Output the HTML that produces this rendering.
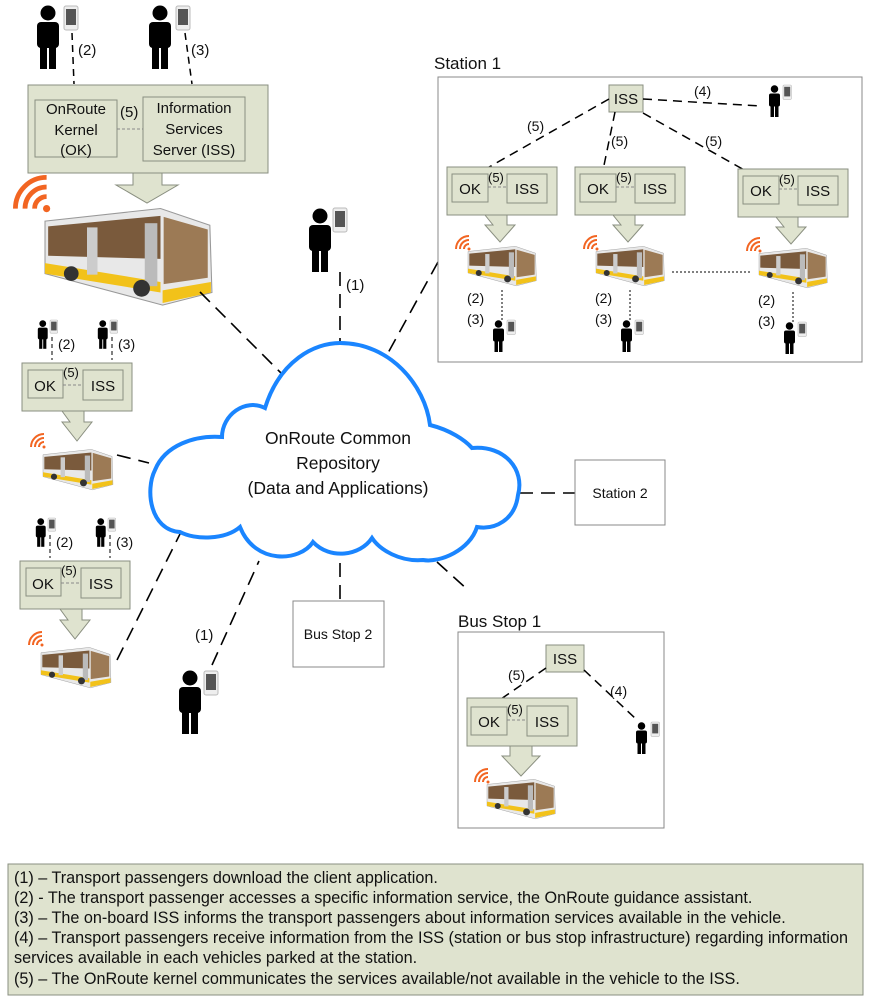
<!DOCTYPE html>
<html><head><meta charset="utf-8"><style>
html,body{margin:0;padding:0;background:#fff;}
svg{display:block;font-family:"Liberation Sans",sans-serif;}
text{fill:#111;}
</style></head><body>
<svg width="871" height="1000" viewBox="0 0 871 1000" xmlns="http://www.w3.org/2000/svg">
<defs>
<g id="bus">
 <polygon points="0,22 110,10 157,26 159,90 112,102 0,72" fill="#e8e8e8" stroke="#999" stroke-width="1"/>
 <polygon points="3,27 110,17 110,58 3,55" fill="#7a5a3c"/>
 <polygon points="113,18 155,30 155,76 113,82" fill="#9c7a55"/>
 <polygon points="0,62 110,80 110,90 0,72" fill="#f2c21a"/>
 <polygon points="112,88 158,80 158,90 112,100" fill="#f2c21a"/>
 <rect x="40" y="28" width="10" height="45" fill="#ccc"/>
 <rect x="95" y="24" width="12" height="60" fill="#bbb"/>
 <circle cx="25" cy="72" r="7" fill="#333"/>
 <circle cx="92" cy="86" r="8" fill="#333"/>
</g>
<g id="wifi" fill="none" stroke="#f26522" stroke-width="4">
 <circle cx="28" cy="28" r="3" fill="#f26522" stroke="none"/>
 <path d="M18,28 A10,10 0 0 1 28,18"/>
 <path d="M10,28 A18,18 0 0 1 28,10"/>
 <path d="M2,28 A26,26 0 0 1 28,2"/>
</g>
<g id="person" fill="#000">
 <circle cx="15" cy="8" r="7.5"/>
 <rect x="4" y="17" width="22" height="26" rx="4"/>
 <rect x="7" y="38" width="7" height="26"/>
 <rect x="16" y="38" width="7" height="26"/>
</g>
<g id="phone">
 <rect x="0" y="0" width="14" height="24" rx="2" fill="#eee" stroke="#bbb"/>
 <rect x="2" y="3" width="10" height="16" fill="#555"/>
</g>
</defs>

<!-- top-left group -->
<use href="#person" x="33" y="5"/><use href="#phone" x="64" y="6"/>
<use href="#person" x="145" y="5"/><use href="#phone" x="176" y="6"/>
<line x1="72" y1="33" x2="74" y2="84" stroke="#000" stroke-width="1.5" stroke-dasharray="7,5"/>
<line x1="185" y1="33" x2="192" y2="84" stroke="#000" stroke-width="1.5" stroke-dasharray="7,5"/>
<text x="78" y="55" font-size="15">(2)</text><text x="191" y="55" font-size="15">(3)</text>
<rect x="28" y="85" width="240" height="88" fill="#dfe3cf" stroke="#8a8f80"/>
<rect x="35" y="100" width="82" height="57" fill="#dfe3cf" stroke="#8a8f80"/>
<rect x="143" y="97" width="102" height="64" fill="#dfe3cf" stroke="#8a8f80"/>
<line x1="117" y1="129" x2="143" y2="129" stroke="#888" stroke-dasharray="3,2"/>
<text x="120" y="117" font-size="15">(5)</text>
<text font-size="15" text-anchor="middle"><tspan x="76" y="114">OnRoute</tspan><tspan x="76" y="135">Kernel</tspan><tspan x="76" y="155">(OK)</tspan></text>
<text font-size="15" text-anchor="middle"><tspan x="194" y="113">Information</tspan><tspan x="194" y="134">Services</tspan><tspan x="194" y="155">Server (ISS)</tspan></text>
<polygon points="133,173 162,173 162,185 178,185 147,203 116,185 133,185" fill="#dfe3cf" stroke="#8a8f80"/>
<use href="#wifi" transform="translate(13,175) scale(1.2)"/>
<use href="#bus" transform="translate(45,198) scale(1.05)"/>

<!-- connectors to cloud -->
<g stroke="#000" stroke-width="1.6" stroke-dasharray="14,8" fill="none">
<line x1="200" y1="292" x2="281" y2="373"/>
<line x1="340" y1="272" x2="340" y2="343"/>
<line x1="438" y1="262" x2="388" y2="353"/>
<line x1="117" y1="455" x2="149" y2="463"/>
<line x1="117" y1="660" x2="181" y2="532"/>
<line x1="212" y1="665" x2="259" y2="561"/>
<line x1="340" y1="563" x2="340" y2="600"/>
<line x1="519" y1="493" x2="575" y2="493"/>
<line x1="437" y1="562" x2="468" y2="590"/>
</g>
<use href="#person" x="305" y="208"/><use href="#phone" x="333" y="208"/>
<text x="346" y="290" font-size="15">(1)</text>
<use href="#person" x="175" y="670"/><use href="#phone" x="204" y="671"/>
<text x="195" y="640" font-size="15">(1)</text>

<!-- cloud -->
<path d="M180,532 C150,530 145,490 155,470 C165,445 195,435 222,437 C222,415 245,398 265,408 C280,360 315,343 340,343 C390,343 425,385 430,425 C450,430 465,440 472,448 C505,445 525,470 518,495 C515,520 495,530 477,527 C470,550 440,563 423,560 C400,562 380,550 372,538 C360,556 330,560 313,542 C300,562 255,565 240,527 C225,540 195,540 180,532 Z" fill="#fff" stroke="#1a85ff" stroke-width="4"/>
<text font-size="17.5" text-anchor="middle"><tspan x="338" y="444">OnRoute Common</tspan><tspan x="338" y="469">Repository</tspan><tspan x="338" y="494">(Data and Applications)</tspan></text>

<!-- left mid groups -->
<g id="lg1">
<use href="#person" transform="translate(36,320) scale(0.45)"/><use href="#phone" transform="translate(50,320) scale(0.55)"/>
<use href="#person" transform="translate(96,320) scale(0.45)"/><use href="#phone" transform="translate(110,320) scale(0.55)"/>
<line x1="52" y1="337" x2="52" y2="360" stroke="#000" stroke-dasharray="4,3"/>
<line x1="112" y1="337" x2="112" y2="360" stroke="#000" stroke-dasharray="4,3"/>
<text x="58" y="349" font-size="14">(2)</text><text x="118" y="349" font-size="14">(3)</text>
<rect x="22" y="363" width="110" height="48" fill="#dfe3cf" stroke="#8a8f80"/>
<rect x="28" y="370" width="35" height="28" fill="#dfe3cf" stroke="#8a8f80"/>
<rect x="83" y="370" width="40" height="30" fill="#dfe3cf" stroke="#8a8f80"/>
<line x1="63" y1="385" x2="83" y2="385" stroke="#888" stroke-dasharray="3,2"/>
<text x="63" y="377" font-size="13">(5)</text>
<text x="45" y="391" font-size="15" text-anchor="middle">OK</text>
<text x="103" y="391" font-size="15" text-anchor="middle">ISS</text>
<polygon points="62,411 84,411 84,422 92,422 77,441 62,422 70,422" fill="#dfe3cf" stroke="#8a8f80"/>
<use href="#wifi" transform="translate(30,433) scale(0.5)"/>
<use href="#bus" transform="translate(43,445) scale(0.44)"/>
</g>
<use href="#lg1" transform="translate(-2,198)"/>

<!-- Station 1 -->
<text x="434" y="69" font-size="17">Station 1</text>
<rect x="438" y="77" width="424" height="285" fill="#fff" stroke="#888"/>
<rect x="609" y="85" width="34" height="27" fill="#dfe3cf" stroke="#8a8f80"/>
<text x="626" y="104" font-size="15" text-anchor="middle">ISS</text>
<g stroke="#000" stroke-width="1.5" stroke-dasharray="9,6" fill="none">
<line x1="643" y1="99" x2="760" y2="106"/>
<line x1="609" y1="99" x2="475" y2="175"/>
<line x1="615" y1="112" x2="602" y2="175"/>
<line x1="643" y1="113" x2="762" y2="180"/>
</g>
<text x="694" y="96" font-size="14">(4)</text>
<text x="527" y="131" font-size="14">(5)</text>
<text x="611" y="146" font-size="14">(5)</text>
<text x="705" y="146" font-size="14">(5)</text>
<use href="#person" transform="translate(767,85) scale(0.5)"/><use href="#phone" transform="translate(783,85) scale(0.6)"/>
<g id="sg">
<rect x="447" y="167" width="110" height="48" fill="#dfe3cf" stroke="#8a8f80"/>
<rect x="452" y="174" width="36" height="28" fill="#dfe3cf" stroke="#8a8f80"/>
<rect x="507" y="174" width="40" height="29" fill="#dfe3cf" stroke="#8a8f80"/>
<line x1="488" y1="187" x2="507" y2="187" stroke="#888" stroke-dasharray="3,2"/>
<text x="488" y="182" font-size="13">(5)</text>
<text x="470" y="194" font-size="15" text-anchor="middle">OK</text>
<text x="527" y="194" font-size="15" text-anchor="middle">ISS</text>
<polygon points="487,215 509,215 509,225 517,225 502,242 487,225 495,225" fill="#dfe3cf" stroke="#8a8f80" transform="translate(-2,0)"/>
<use href="#wifi" transform="translate(455,235) scale(0.5)"/>
<use href="#bus" transform="translate(468,242) scale(0.43)"/>
<line x1="502" y1="290" x2="502" y2="322" stroke="#000" stroke-dasharray="2,2"/>
<text x="467" y="303" font-size="14">(2)</text><text x="467" y="324" font-size="14">(3)</text>
<use href="#person" transform="translate(491,320) scale(0.5)"/><use href="#phone" transform="translate(507,320) scale(0.6)"/>
</g>
<use href="#sg" transform="translate(128,0)"/>
<use href="#sg" transform="translate(291,2)"/>
<line x1="672" y1="272" x2="752" y2="272" stroke="#000" stroke-dasharray="2,2"/>

<!-- Station 2 -->
<rect x="575" y="460" width="90" height="65" fill="#fff" stroke="#888"/>
<text x="620" y="498" font-size="14" text-anchor="middle">Station 2</text>
<!-- Bus Stop 2 -->
<rect x="293" y="601" width="91" height="66" fill="#fff" stroke="#888"/>
<text x="338" y="639" font-size="14" text-anchor="middle">Bus Stop 2</text>

<!-- Bus Stop 1 -->
<text x="458" y="627" font-size="17">Bus Stop 1</text>
<rect x="458" y="632" width="206" height="196" fill="#fff" stroke="#888"/>
<rect x="546" y="645" width="38" height="27" fill="#dfe3cf" stroke="#8a8f80"/>
<text x="565" y="664" font-size="15" text-anchor="middle">ISS</text>
<g stroke="#000" stroke-width="1.5" stroke-dasharray="9,6" fill="none">
<line x1="546" y1="668" x2="488" y2="708"/>
<line x1="584" y1="670" x2="637" y2="720"/>
</g>
<text x="508" y="680" font-size="14">(5)</text>
<text x="610" y="696" font-size="14">(4)</text>
<use href="#person" transform="translate(634,722) scale(0.5)"/><use href="#phone" transform="translate(651,722) scale(0.6)"/>
<rect x="467" y="698" width="110" height="48" fill="#dfe3cf" stroke="#8a8f80"/>
<rect x="471" y="707" width="36" height="28" fill="#dfe3cf" stroke="#8a8f80"/>
<rect x="527" y="706" width="41" height="30" fill="#dfe3cf" stroke="#8a8f80"/>
<line x1="507" y1="720" x2="527" y2="720" stroke="#888" stroke-dasharray="3,2"/>
<text x="507" y="714" font-size="13">(5)</text>
<text x="489" y="727" font-size="15" text-anchor="middle">OK</text>
<text x="547" y="727" font-size="15" text-anchor="middle">ISS</text>
<polygon points="510,746 532,746 532,756 540,756 521,776 502,756 510,756" fill="#dfe3cf" stroke="#8a8f80"/>
<use href="#wifi" transform="translate(474,768) scale(0.5)"/>
<use href="#bus" transform="translate(487,775) scale(0.43)"/>

<!-- legend -->
<rect x="8" y="864" width="855" height="131" fill="#dfe3cf" stroke="#8a8f80"/>
<text font-size="16.2">
<tspan x="14" y="883">(1) – Transport passengers download the client application.</tspan>
<tspan x="14" y="903">(2) - The transport passenger accesses a specific information service, the OnRoute guidance assistant.</tspan>
<tspan x="14" y="923">(3) – The on-board ISS informs the transport passengers about information services available in the vehicle.</tspan>
<tspan x="14" y="943">(4) – Transport passengers receive information from the ISS (station or bus stop infrastructure) regarding information</tspan>
<tspan x="14" y="963">services available in each vehicles parked at the station.</tspan>
<tspan x="14" y="984">(5) – The OnRoute kernel communicates the services available/not available in the vehicle to the ISS.</tspan>
</text>
</svg>
</body></html>
